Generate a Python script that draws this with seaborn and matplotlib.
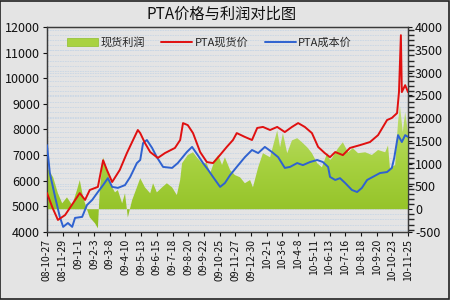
import numpy as np
import pandas as pd
import matplotlib
matplotlib.use("Agg")
import matplotlib.pyplot as plt
import matplotlib.dates as mdates
from matplotlib.ticker import MultipleLocator, FixedLocator
from matplotlib.patches import Patch, Rectangle
from matplotlib.lines import Line2D
from matplotlib.colors import LinearSegmentedColormap
import seaborn as sns

# ---------------- data ----------------
title = "PTA价格与利润对比图"
series_names = ["现货利润", "PTA现货价", "PTA成本价"]

spot_dates = ["2008-10-27", "2008-11-07", "2008-11-19", "2008-12-04", "2008-12-21",
              "2009-01-04", "2009-01-15", "2009-01-25", "2009-02-11", "2009-02-22",
              "2009-03-02", "2009-03-13", "2009-03-29", "2009-04-13", "2009-04-26",
              "2009-05-06", "2009-05-11", "2009-05-21", "2009-06-01", "2009-06-17",
              "2009-07-02", "2009-07-23", "2009-08-03", "2009-08-09", "2009-08-19",
              "2009-08-30", "2009-09-14", "2009-09-28", "2009-10-11", "2009-10-22",
              "2009-11-09", "2009-11-22", "2009-11-30", "2009-12-17", "2010-01-01",
              "2010-01-12", "2010-01-24", "2010-02-08", "2010-02-23", "2010-03-11",
              "2010-03-26", "2010-04-08", "2010-04-22", "2010-05-07", "2010-05-20",
              "2010-06-03", "2010-06-14", "2010-06-25", "2010-07-11", "2010-07-26",
              "2010-08-16", "2010-09-06", "2010-09-23", "2010-10-12", "2010-10-22",
              "2010-11-02", "2010-11-06", "2010-11-10", "2010-11-12", "2010-11-19",
              "2010-11-25"]
spot_price = [5520, 4975, 4470, 4660, 5130,
              5520, 5250, 5640, 5760, 6800,
              6420, 5950, 6420, 7080, 7590,
              7980, 7860, 7470, 7120, 6890,
              7080, 7280, 7590, 8250, 8170,
              7860, 7120, 6730, 6690, 6920,
              7320, 7590, 7860, 7710, 7590,
              8060, 8100, 7980, 8100, 7900,
              8100, 8250, 8100, 7860, 7320,
              7080, 6920, 7120, 7000, 7280,
              7390, 7510, 7780, 8370, 8450,
              8640, 9460, 11680, 9460, 9730,
              9460]

cost_dates = ["2008-10-27", "2008-11-02", "2008-11-13", "2008-11-23", "2008-11-30",
              "2008-12-10", "2008-12-19", "2008-12-25", "2009-01-09", "2009-01-19",
              "2009-01-30", "2009-02-11", "2009-02-22", "2009-03-04", "2009-03-13",
              "2009-03-25", "2009-04-09", "2009-04-20", "2009-05-04", "2009-05-11",
              "2009-05-17", "2009-05-25", "2009-06-05", "2009-06-15", "2009-06-28",
              "2009-07-17", "2009-07-29", "2009-08-17", "2009-08-28", "2009-09-09",
              "2009-09-20", "2009-10-01", "2009-10-11", "2009-10-26", "2009-11-05",
              "2009-11-16", "2009-11-30", "2009-12-17", "2010-01-01", "2010-01-14",
              "2010-01-28", "2010-02-12", "2010-02-25", "2010-03-11", "2010-03-22",
              "2010-04-06", "2010-04-18", "2010-05-03", "2010-05-18", "2010-05-30",
              "2010-06-10", "2010-06-14", "2010-06-25", "2010-07-05", "2010-07-16",
              "2010-07-30", "2010-08-10", "2010-08-20", "2010-08-31", "2010-09-12",
              "2010-09-27", "2010-10-12", "2010-10-22", "2010-10-27", "2010-11-04",
              "2010-11-12", "2010-11-19", "2010-11-25"]
cost_price = [7390, 6300, 5370, 4590, 4200,
              4350, 4200, 4550, 4590, 5050,
              5250, 5560, 5830, 6100, 5760,
              5720, 5830, 6150, 6690, 6810,
              7470, 7590, 7280, 6920, 6540,
              6500, 6690, 7120, 7320, 7000,
              6690, 6420, 6150, 5760, 5910,
              6220, 6540, 6920, 7200, 7080,
              7320, 7120, 6920, 6500, 6540,
              6690, 6610, 6730, 6810, 6730,
              6540, 6150, 6030, 6100, 5910,
              5640, 5560, 5720, 6030, 6150,
              6300, 6340, 6500, 6890, 7780,
              7510, 7780, 7710]

profit_dates = ["2008-10-27", "2008-11-09", "2008-11-19", "2008-11-28", "2008-12-08",
                "2008-12-19", "2008-12-29", "2009-01-04", "2009-01-11", "2009-01-19",
                "2009-01-25", "2009-02-05", "2009-02-11", "2009-02-15", "2009-02-22",
                "2009-03-02", "2009-03-13", "2009-03-19", "2009-03-25", "2009-04-03",
                "2009-04-09", "2009-04-15", "2009-04-24", "2009-05-04", "2009-05-11",
                "2009-05-21", "2009-06-01", "2009-06-07", "2009-06-15", "2009-06-26",
                "2009-07-06", "2009-07-17", "2009-07-27", "2009-08-03", "2009-08-07",
                "2009-08-19", "2009-08-30", "2009-09-07", "2009-09-18", "2009-09-28",
                "2009-10-05", "2009-10-15", "2009-10-22", "2009-10-30", "2009-11-05",
                "2009-11-16", "2009-11-26", "2009-12-07", "2009-12-17", "2009-12-28",
                "2010-01-03", "2010-01-14", "2010-01-24", "2010-02-08", "2010-02-23",
                "2010-03-01", "2010-03-07", "2010-03-16", "2010-03-26", "2010-04-06",
                "2010-04-16", "2010-04-27", "2010-05-07", "2010-05-18", "2010-05-28",
                "2010-06-08", "2010-06-14", "2010-06-18", "2010-07-01", "2010-07-11",
                "2010-07-22", "2010-08-01", "2010-08-12", "2010-08-27", "2010-09-10",
                "2010-09-23", "2010-10-08", "2010-10-14", "2010-10-18", "2010-10-29",
                "2010-11-04", "2010-11-08", "2010-11-14", "2010-11-19", "2010-11-25"]
profit = [920, 700, 350, 130, 260,
          90, 420, 640, 260, 0,
          -180, -310, -420, 420, 1140,
          860, 480, 370, 420, 130,
          350, -180, 200, 480, 680,
          480, 350, 570, 370, 480,
          570, 480, 310, 640, 1010,
          1190, 1250, 1140, 1010, 1010,
          790, 1080, 1190, 970, 1140,
          860, 750, 700, 570, 640,
          480, 920, 1230, 1140, 1730,
          1360, 1670, 1230, 1510, 1560,
          1470, 1360, 1230, 1010, 920,
          1230, 1080, 1120, 1340, 1470,
          1250, 1340, 1230, 1250, 1190,
          1300, 1250, 1400, 900, 970,
          1910, 2280, 1690, 2130, 1690]

tick_dates = ["2008-10-27", "2008-11-29", "2009-01-01", "2009-02-03", "2009-03-08",
              "2009-04-10", "2009-05-13", "2009-06-15", "2009-07-18", "2009-08-20",
              "2009-09-22", "2009-10-25", "2009-11-27", "2009-12-30", "2010-02-01",
              "2010-03-06", "2010-04-08", "2010-05-11", "2010-06-13", "2010-07-16",
              "2010-08-18", "2010-09-20", "2010-10-23", "2010-11-25"]
tick_labels = ["08-10-27", "08-11-29", "09-1-1", "09-2-3", "09-3-8",
               "09-4-10", "09-5-13", "09-6-15", "09-7-18", "09-8-20",
               "09-9-22", "09-10-25", "09-11-27", "09-12-30", "10-2-1",
               "10-3-6", "10-4-8", "10-5-11", "10-6-13", "10-7-16",
               "10-8-18", "10-9-20", "10-10-23", "10-11-25"]

left_ticks = [4000, 5000, 6000, 7000, 8000, 9000, 10000, 11000, 12000]
right_ticks = [-500, 0, 500, 1000, 1500, 2000, 2500, 3000, 3500, 4000]

# ---------------- style ----------------
sns.set_theme(style="white")
plt.rcParams["font.family"] = ["Noto Sans CJK SC", "DejaVu Sans"]
plt.rcParams["axes.unicode_minus"] = False

RED = "#e01010"
BLUE = "#2f62d0"
GREEN = "#9cc832"

spot_df = pd.DataFrame({"date": pd.to_datetime(spot_dates), "price": spot_price})
cost_df = pd.DataFrame({"date": pd.to_datetime(cost_dates), "price": cost_price})
prof_df = pd.DataFrame({"date": pd.to_datetime(profit_dates), "profit": profit})

fig = plt.figure(figsize=(4.5, 3), dpi=100, facecolor="#e4e4e4")
ax = fig.add_axes([0.1044, 0.2267, 0.8023, 0.6833])
ax2 = ax.twinx()
ax.set_zorder(ax2.get_zorder() + 1)
ax.patch.set_visible(False)
ax2.patch.set_facecolor("#fbfcfe")

xmin = pd.Timestamp(tick_dates[0])
xmax = pd.Timestamp(tick_dates[-1])

# profit area on the right axis (behind lines)
poly = ax2.fill_between(prof_df["date"], 0, prof_df["profit"], color=GREEN, lw=0, zorder=2)
grad = np.linspace(1, 0, 256).reshape(-1, 1)
cmap = LinearSegmentedColormap.from_list("g", ["#8dbd1e", "#a6d13f", "#c3e07c"])
im = ax2.imshow(grad, extent=[mdates.date2num(xmin), mdates.date2num(xmax), -500, 2400],
                origin="upper", aspect="auto", cmap=cmap, zorder=3)
im.set_clip_path(poly.get_paths()[0], transform=ax2.transData)
poly.set_visible(False)
ax2.set_ylim(-500, 4000)
ax2.yaxis.set_major_locator(FixedLocator(right_ticks))
ax2.yaxis.set_minor_locator(MultipleLocator(112.5))
days = pd.date_range(xmin, xmax, freq="11D")
ax2.xaxis.set_minor_locator(FixedLocator(mdates.date2num(days)))
ax2.grid(True, which="both", axis="both", color="#c9d6e4", lw=0.6,
         linestyle=(0, (2, 1)), zorder=0)
ax2.set_axisbelow(True)

# price lines on the left axis
sns.lineplot(data=spot_df, x="date", y="price", ax=ax, color=RED, lw=1.4, zorder=5)
sns.lineplot(data=cost_df, x="date", y="price", ax=ax, color=BLUE, lw=1.4, zorder=4)
ax.set_ylim(4000, 12000)
ax.set_xlim(xmin, xmax)
ax.set_yticks(left_ticks)
ax.set_xticks(pd.to_datetime(tick_dates))
ax.set_xticklabels(tick_labels, rotation=90, fontsize=7.5)
ax.set_xlabel("")
ax.set_ylabel("")
ax.tick_params(axis="y", labelsize=9, length=3, width=0.8, direction="out", pad=2, left=True, colors="#111111")
ax.tick_params(axis="x", length=3, width=0.8, direction="out", pad=2, bottom=True, colors="#111111")
ax2.tick_params(axis="y", labelsize=9, length=3, width=0.8, direction="out", pad=2, right=True, colors="#111111")
ax2.tick_params(axis="x", which="both", length=0)
for a in (ax, ax2):
    for s in a.spines.values():
        s.set_color("#3a3a3a")
        s.set_linewidth(0.9)

handles = [Patch(facecolor="#a9d240", edgecolor="#8fbf2a", lw=0.5),
           Line2D([0], [0], color=RED, lw=1.4),
           Line2D([0], [0], color=BLUE, lw=1.4)]
ax.legend(handles, series_names, ncol=3, loc="center", bbox_to_anchor=(0.45, 0.925),
          frameon=False, fontsize=8, handlelength=2.8, handletextpad=0.2,
          columnspacing=1.5, handleheight=0.8)

fig.text(0.493, 0.953, title, ha="center", va="center", fontsize=11, color="#111111")
fig.patches.append(Rectangle((0.001, 0.002), 0.997, 0.995, transform=fig.transFigure,
                             fill=False, edgecolor="#222222", lw=1.2))

fig.savefig("out.png", dpi=100, facecolor=fig.get_facecolor())
